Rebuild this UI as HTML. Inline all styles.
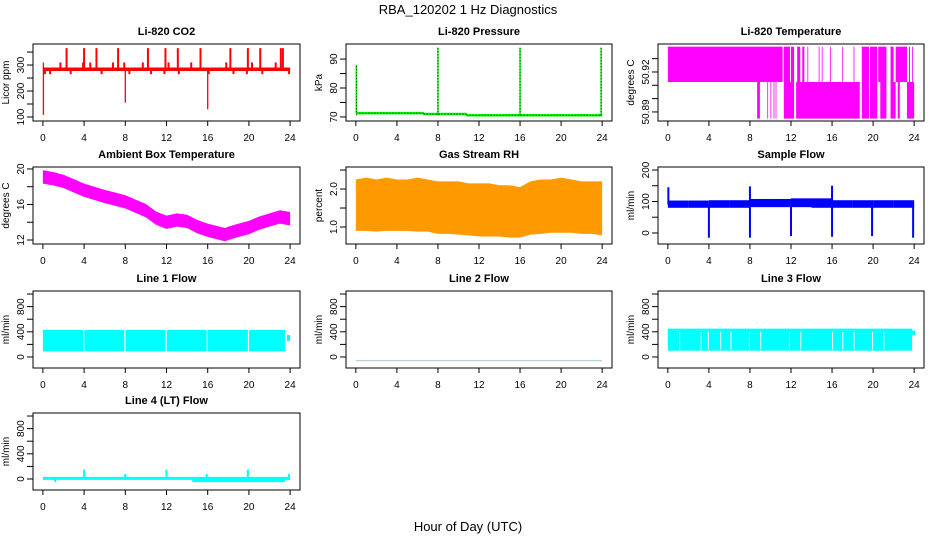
<!DOCTYPE html>
<html><head><meta charset="utf-8"><style>
html,body{margin:0;padding:0;background:#fff;}
svg{display:block;font-family:"Liberation Sans",sans-serif;}
</style></head><body>
<svg id="chart" width="936" height="540" viewBox="0 0 936 540" xmlns="http://www.w3.org/2000/svg">
<text x="468" y="14" text-anchor="middle" font-size="13">RBA_120202  1 Hz Diagnostics</text>
<text x="468" y="531" text-anchor="middle" font-size="13">Hour of Day (UTC)</text>
</svg>
<script>
// ---- data ----
const xTicks = [0,4,8,12,16,20,24];
const co2SpikeHours = [0.05,0.05,8.0,16.0,2.3,4.0,5.2,7.3,10.2,11.9,13.1,15.3,18.2,19.9,21.1,23.1,23.3,1.7,3.9,4.6,6.8,7.9,9.7,12.2,14.4,17.8,20.3,22.6,0.2,0.7,2.7,5.7,8.4,10.5,11.8,13.2,16.1,18.5,19.8,21.3,23.9];
const co2SpikeVals  = [108,310,155,130,365,365,365,365,365,365,365,365,365,365,365,365,365,310,310,310,310,310,310,310,310,310,310,310,265,265,265,265,265,265,265,265,265,265,265,265,265];
const co2Base = 284;
const presSegStarts = [0.05,6.6,10.8];
const presSegEnds = [6.6,10.8,24];
const presLevels = [71.3,71.0,70.6];
const presSpikeHours = [0.05,8.0,16.0,23.9];
const presSpikeVals = [88,94,94,94];
const tempHiSegs = [[0,11.18],[11.3,11.9],[12.0,12.3],[12.6,12.9],[13.1,13.3],[13.6,13.65],[14.7,14.75],[15.0,15.05],[15.8,15.85],[17.0,17.05],[18.1,18.15],[18.9,19.6],[19.7,20.4],[20.5,21.3],[21.7,22.0],[22.2,23.3],[23.5,23.6],[23.8,23.85]];
const tempLoSegs = [[8.7,8.97],[9.69,9.75],[10.0,10.05],[10.3,10.35],[10.5,10.55],[11.3,12.3],[12.5,18.7],[18.9,19.6],[19.7,20.4],[20.7,21.3],[21.7,22.2],[22.4,22.6],[23.3,24.0]];
const tempLevels = [50.885,50.9125,50.939];
const ambHours = [0,1,2,3,4,5,6,7,8,9,10,11,12,13,14,15,16,17,17.7,18,19,20,21,22,23,24];
const ambVals = [19.1,18.9,18.6,18.1,17.6,17.25,16.9,16.6,16.3,15.8,15.3,14.45,14.0,14.25,14.1,13.5,13.1,12.8,12.6,12.75,13.1,13.4,13.9,14.25,14.6,14.4];
const ambHalf = 0.75;
const rhHours = [0,1,2,3,4,5,6,7,8,9,10,11,12,13,14,15,16,17,18,19,20,21,22,23,24];
const rhTop = [2.25,2.3,2.25,2.3,2.25,2.25,2.3,2.25,2.2,2.2,2.2,2.15,2.15,2.15,2.1,2.1,2.05,2.2,2.25,2.25,2.3,2.25,2.2,2.2,2.2];
const rhBot = [0.9,0.9,0.88,0.9,0.9,0.9,0.88,0.88,0.82,0.82,0.8,0.78,0.75,0.75,0.75,0.72,0.72,0.8,0.82,0.85,0.85,0.85,0.82,0.82,0.78];
const sfBandLo = [80,80,80,80,82,82,82,80,80,80,80,80];
const sfBandHi = [103,103,104,104,108,108,110,110,104,104,104,104];
const sfSpikeHours = [4.0,8.0,12.0,16.0,19.9,23.9,0.05,8.0,16.0];
const sfSpikeVals = [-15,-15,-10,-12,-10,-15,145,148,150];
const l1Gaps = [3.9,7.9,11.9,15.9,19.9];
const l1Lo = 90, l1Hi = 430;
const l3Gaps = [1.1,3.2,3.9,5.1,6.1,7.9,9.0,11.8,12.9,16.0,17.0,18.1,19.9,21.0];
const l3Lo = 100, l3Hi = 450;
const l2Val = -60;
const l4Base = 10;
const l4SpikeHours = [4.0,8.0,12.0,15.9,19.9,23.9,1.2];
const l4SpikeVals = [150,80,150,80,150,80,-50];
const l4DipStart = 14.5, l4DipEnd = 23.5, l4Dip = -50;

// ---- layout ----
const cols = [[33,300],[346,612],[658,924]];
const rows = [[44,121],[167,244],[291,368],[413,490]];
const svg = document.getElementById('chart');
const NS = 'http://www.w3.org/2000/svg';
function el(tag, attrs, parent){const e=document.createElementNS(NS,tag);for(const k in attrs)e.setAttribute(k,attrs[k]);(parent||svg).appendChild(e);return e;}

function panel(c,r,title,ylab,ylo,yhi,yticks,ylabels,name){
  const [x0,x1]=cols[c],[y0,y1]=rows[r];
  const g=el('g',{});
  
  
  const X=h=>x0+(h+0.96)/25.92*(x1-x0);
  const Y=v=>y1-(v-ylo)/(yhi-ylo)*(y1-y0);
  const plot=el('g',{},g);
  
  
  const box=el('rect',{x:x0,y:y0,width:x1-x0,height:y1-y0,fill:'none',stroke:'#000','stroke-width':1},g);
  
  
  const t=el('text',{x:(x0+x1)/2,y:y0-9,'text-anchor':'middle','font-size':11,'font-weight':'bold'},g);
  t.textContent=title;
  
  
  const xa=el('g',{},g);
  
  
  xTicks.forEach(v=>{
    el('line',{x1:X(v),x2:X(v),y1:y1,y2:y1+5,stroke:'#000'},xa);
    const tl=el('text',{x:X(v),y:y1+20,'text-anchor':'middle','font-size':10},xa);
    tl.textContent=v;
    
    
  });
  const ya=el('g',{},g);
  
  
  yticks.forEach(v=>{el('line',{x1:x0-6,x2:x0,y1:Y(v),y2:Y(v),stroke:'#000'},ya);});
  ylabels.forEach(v=>{
    const yl=el('text',{x:0,y:0,'text-anchor':'middle','font-size':10,transform:`translate(${x0-9},${Y(v)}) rotate(-90)`},ya);
    yl.textContent=v;
    
    
  });
  const yt=el('text',{x:0,y:0,'text-anchor':'middle','font-size':10,transform:`translate(${x0-24},${(y0+y1)/2}) rotate(-90)`},g);
  yt.textContent=ylab;
  
  
  return {X,Y,g:plot};
}
function vline(p,h,a,b,col,w){return el('line',{x1:p.X(h),x2:p.X(h),y1:p.Y(a),y2:p.Y(b),stroke:col,'stroke-width':w||1.5},p.g);}
function band(p,h0,h1,a,b,fill){return el('rect',{x:p.X(h0),y:p.Y(b),width:Math.max(0.8,p.X(h1)-p.X(h0)),height:p.Y(a)-p.Y(b),fill:fill},p.g);}

// CO2
let p=panel(0,0,'Li-820 CO2','Licor ppm',84.6,381,[100,150,200,250,300,350],['100','200','300'],'co2');
el('line',{x1:p.X(0),x2:p.X(24),y1:p.Y(co2Base),y2:p.Y(co2Base),stroke:'#f00','stroke-width':3.5},p.g);
co2SpikeHours.forEach((h,i)=>vline(p,h,co2Base,co2SpikeVals[i],'#f00',i<4?1.3:2));

// Pressure
p=panel(1,0,'Li-820 Pressure','kPa',68.6,95.2,[70,75,80,85,90],['70','80','90'],'pressure');
presLevels.forEach((v,i)=>{el('line',{x1:p.X(presSegStarts[i]),x2:p.X(presSegEnds[i]),y1:p.Y(v),y2:p.Y(v),stroke:'#0f0','stroke-width':2.5},p.g);
  el('line',{x1:p.X(presSegStarts[i]),x2:p.X(presSegEnds[i]),y1:p.Y(v),y2:p.Y(v),stroke:'#000','stroke-width':1,'stroke-dasharray':'1 2'},p.g);});
presSpikeHours.forEach((h,i)=>{vline(p,h,presLevels[i===0?0:(i===1?1:2)],presSpikeVals[i],'#0f0',1.5);
  el('line',{x1:p.X(h),x2:p.X(h),y1:p.Y(70.6),y2:p.Y(presSpikeVals[i]),stroke:'#000','stroke-width':1,'stroke-dasharray':'1 2'},p.g);});

// Temperature
p=panel(2,0,'Li-820 Temperature','degrees C',50.8832,50.941,[50.89,50.90,50.91,50.92,50.93],['50.89','50.92'],'li820-temperature');
tempHiSegs.forEach(s=>band(p,s[0],s[1],tempLevels[1],tempLevels[2],'#f0f'));
tempLoSegs.forEach(s=>band(p,s[0],s[1],tempLevels[0],tempLevels[1],'#f0f'));

// Ambient
p=panel(0,1,'Ambient Box Temperature','degrees C',11.55,20.22,[12,14,16,18,20],['12','16','20'],'ambient-temperature');
{let pts=ambHours.map((h,i)=>p.X(h)+','+p.Y(ambVals[i]+ambHalf)).join(' ');
 let pts2=ambHours.slice().reverse().map((h,i)=>p.X(h)+','+p.Y(ambVals[ambVals.length-1-i]-ambHalf)).join(' ');
 el('polygon',{points:pts+' '+pts2,fill:'#f0f'},p.g);}

// RH
p=panel(1,1,'Gas Stream RH','percent',0.553,2.58,[1.0,1.5,2.0,2.5],['1.0','2.0'],'gas-stream-rh');
{let pts=rhHours.map((h,i)=>p.X(h)+','+p.Y(rhTop[i])).join(' ');
 let pts2=rhHours.slice().reverse().map((h,i)=>p.X(h)+','+p.Y(rhBot[rhBot.length-1-i])).join(' ');
 el('polygon',{points:pts+' '+pts2,fill:'#ff9900'},p.g);}

// Sample flow
p=panel(2,1,'Sample Flow','ml/min',-35,209.5,[0,50,100,150,200],['0','100','200'],'sample-flow');
sfBandLo.forEach((v,i)=>band(p,i*2,i*2+2,v,sfBandHi[i],'#00f'));
sfSpikeHours.forEach((h,i)=>vline(p,h,90,sfSpikeVals[i],'#00f',2));

// Line 1
p=panel(0,2,'Line 1 Flow','ml/min',-175,1048,[0,200,400,600,800,1000],['0','400','800'],'line1-flow');
band(p,0,23.5,l1Lo,l1Hi,'#0ff');band(p,23.7,24,250,350,'#0ff');
l1Gaps.forEach(h=>band(p,h,h+0.12,l1Lo-20,l1Hi+20,'#fff'));

// Line 2
p=panel(1,2,'Line 2 Flow','ml/min',-175,1048,[0,200,400,600,800,1000],['0','400','800'],'line2-flow');
el('line',{x1:p.X(0),x2:p.X(24),y1:p.Y(l2Val),y2:p.Y(l2Val),stroke:'#9cc','stroke-width':1},p.g);

// Line 3
p=panel(2,2,'Line 3 Flow','ml/min',-175,1048,[0,200,400,600,800,1000],['0','400','800'],'line3-flow');
band(p,0,23.8,l3Lo,l3Hi,'#0ff');band(p,23.8,24.1,350,420,'#0ff');
l3Gaps.forEach(h=>band(p,h,h+0.1,l3Lo+20,400,'#fff'));

// Line 4
p=panel(0,3,'Line 4 (LT) Flow','ml/min',-175,1048,[0,200,400,600,800,1000],['0','400','800'],'line4-flow');
band(p,l4DipStart,l4DipEnd,l4Dip,l4Base,'#0ff');
el('line',{x1:p.X(0),x2:p.X(24),y1:p.Y(l4Base),y2:p.Y(l4Base),stroke:'#0ff','stroke-width':3},p.g);
l4SpikeHours.forEach((h,i)=>vline(p,h,l4Base,l4SpikeVals[i],'#0ff',2));
</script>
</body></html>
